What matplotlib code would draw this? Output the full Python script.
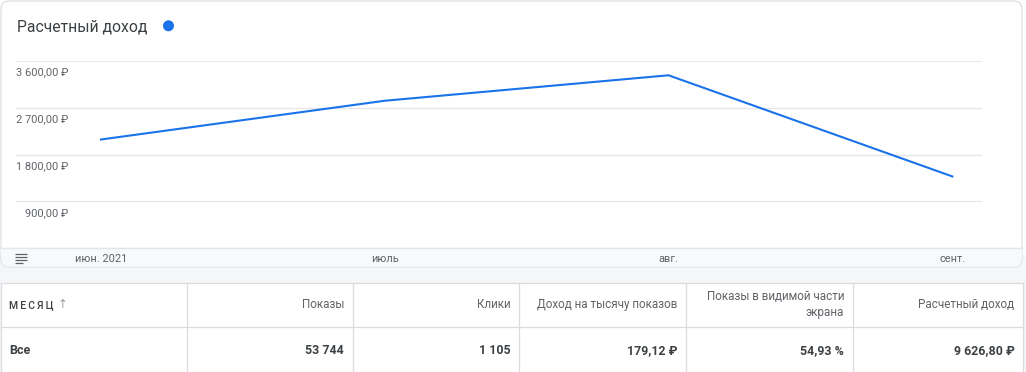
import matplotlib
matplotlib.use("Agg")
import matplotlib.pyplot as plt
from matplotlib.patches import FancyBboxPatch, Rectangle, Circle
from matplotlib.transforms import offset_copy, blended_transform_factory

plt.rcParams['font.family'] = ['Roboto', 'DejaVu Sans']

# ---- data ----
months = ["июн. 2021", "июль", "авг.", "сент."]
revenue = [2089, 2835, 3325, 1378]
y_ticks = [900, 1800, 2700, 3600]
y_tick_labels = ["900,00 ₽", "1 800,00 ₽", "2 700,00 ₽", "3 600,00 ₽"]
title = "Расчетный доход"

table_headers = ["МЕСЯЦ", "Показы", "Клики", "Доход на тысячу показов",
                 "Показы в видимой части\nэкрана", "Расчетный доход"]
table_values = ["Все", "53 744", "1 105", "179,12 ₽", "54,93 %", "9 626,80 ₽"]

W, H = 1026, 372
BLUE = "#1a73e8"
GRID = "#e6e6e6"
TXT = "#5f6368"
DARK = "#3c4043"
BORDER = "#dadce0"

fig = plt.figure(figsize=(W / 100, H / 100), dpi=100)
fig.patch.set_facecolor("white")

# overlay axes in pixel coordinates
ov = fig.add_axes([0, 0, 1, 1])
ov.set_xlim(0, W)
ov.set_ylim(H, 0)
ov.axis("off")
ov.set_zorder(0)

# background below card
ov.add_patch(Rectangle((0, 255), W, H - 255, facecolor="#f5f6f7", edgecolor="none", zorder=0))
# card
ov.add_patch(FancyBboxPatch((1, 1), 1021, 266, boxstyle="round,pad=0,rounding_size=8",
                            facecolor="white", edgecolor=BORDER, linewidth=0.8, zorder=1))
# bottom strip of card
ov.add_patch(FancyBboxPatch((1.4, 247.5), 1020.2, 19.1, boxstyle="round,pad=0,rounding_size=7",
                            facecolor="#f8f9fa", edgecolor="none", zorder=2))
ov.add_patch(Rectangle((1.4, 247.5), 1020.2, 8, facecolor="#f8f9fa", edgecolor="none", zorder=2))
ov.plot([1.4, 1021.6], [247.5, 247.5], color="#e3e5e8", lw=1.0, zorder=3)

# hamburger icon
for yy, x1 in [(253.5, 27), (256.5, 27), (259.5, 27), (262.5, 23)]:
    ov.plot([15, x1], [yy, yy], color=TXT, lw=0.9, solid_capstyle="butt", zorder=4)

# title + dot
ov.text(17, 31, title, fontsize=11.3, color=DARK, va="baseline", ha="left", zorder=4)
ov.add_patch(Circle((168.5, 25.8), 5.5, facecolor=BLUE, edgecolor="none", zorder=4))

# table
ov.add_patch(Rectangle((1, 283.3), 1022, 95, facecolor="white", edgecolor="none", zorder=1))
col_edges = [1, 186.5, 352.5, 519.3, 686, 852.7, 1023]
ov.plot([1, 1023], [283.3, 283.3], color=BORDER, lw=0.9, zorder=3)
ov.plot([1, 1023], [327, 327], color=BORDER, lw=0.9, zorder=3)
for xe in col_edges:
    ov.plot([xe, xe], [283.3, H], color=BORDER, lw=0.9, zorder=3)

for i, (hd, val) in enumerate(zip(table_headers, table_values)):
    if i == 0:
        spaced = "\u2009".join(hd)
        ov.text(9, 307.8, spaced, fontsize=7.6, color=DARK, ha="left", va="baseline",
                fontweight="medium", zorder=4)
        ov.text(62, 307.8, "↑", fontsize=8.5, color=TXT, ha="center", va="baseline",
                family=["DejaVu Sans"], fontweight="light", zorder=4)
        ov.text(9, 354, val, fontsize=9.0, color=DARK, ha="left", va="baseline",
                fontweight="bold", zorder=4)
    else:
        xr = col_edges[i + 1] - 8.5
        if "\n" in hd:
            l1, l2 = hd.split("\n")
            ov.text(xr, 300.5, l1, fontsize=8.4, color=TXT, ha="right", va="baseline", zorder=4)
            ov.text(xr, 315.7, l2, fontsize=8.4, color=TXT, ha="right", va="baseline", zorder=4)
        else:
            ov.text(xr, 307.8, hd, fontsize=8.4, color=TXT, ha="right", va="baseline", zorder=4)
        ov.text(xr, 354, val, fontsize=8.9, color=DARK, ha="right", va="baseline",
                fontweight="bold", zorder=4)

# ---- chart axes ----
px_left, px_right, px_top, px_bottom = 16, 982, 61, 248
ax = fig.add_axes([px_left / W, (H - px_bottom) / H, (px_right - px_left) / W,
                   (px_bottom - px_top) / H])
ax.set_zorder(5)
ax.patch.set_alpha(0)
x = list(range(len(months)))
unit = (952.3 - 101) / 3
ax.set_xlim(-(101 - px_left) / unit, 3 + (px_right - 952.3) / unit)
ax.set_ylim(0, 3600)
for s in ax.spines.values():
    s.set_visible(False)
ax.set_xticks([])
ax.set_yticks([])
for t in y_ticks:
    ax.axhline(t, color=GRID, lw=1.3 if t == 3600 else 0.9, zorder=1)
ax.plot(x, revenue, color=BLUE, lw=1.5, zorder=3, clip_on=False,
        solid_joinstyle="miter")

ytrans = offset_copy(blended_transform_factory(ax.transAxes, ax.transData),
                     fig=fig, y=-14.7, units="dots")
for t, lab in zip(y_ticks, y_tick_labels):
    ax.text((68.3 - px_left) / (px_right - px_left), t, lab, transform=ytrans,
            ha="right", va="baseline", fontsize=7.9, color=TXT)

xtrans = offset_copy(ax.get_xaxis_transform(), fig=fig, y=-14.3, units="dots")
for xi, lab in zip(x, months):
    ax.text(xi, 0, lab, transform=xtrans, ha="center", va="baseline",
            fontsize=7.9, color=TXT)

fig.savefig("out.png", dpi=100, facecolor="white")
